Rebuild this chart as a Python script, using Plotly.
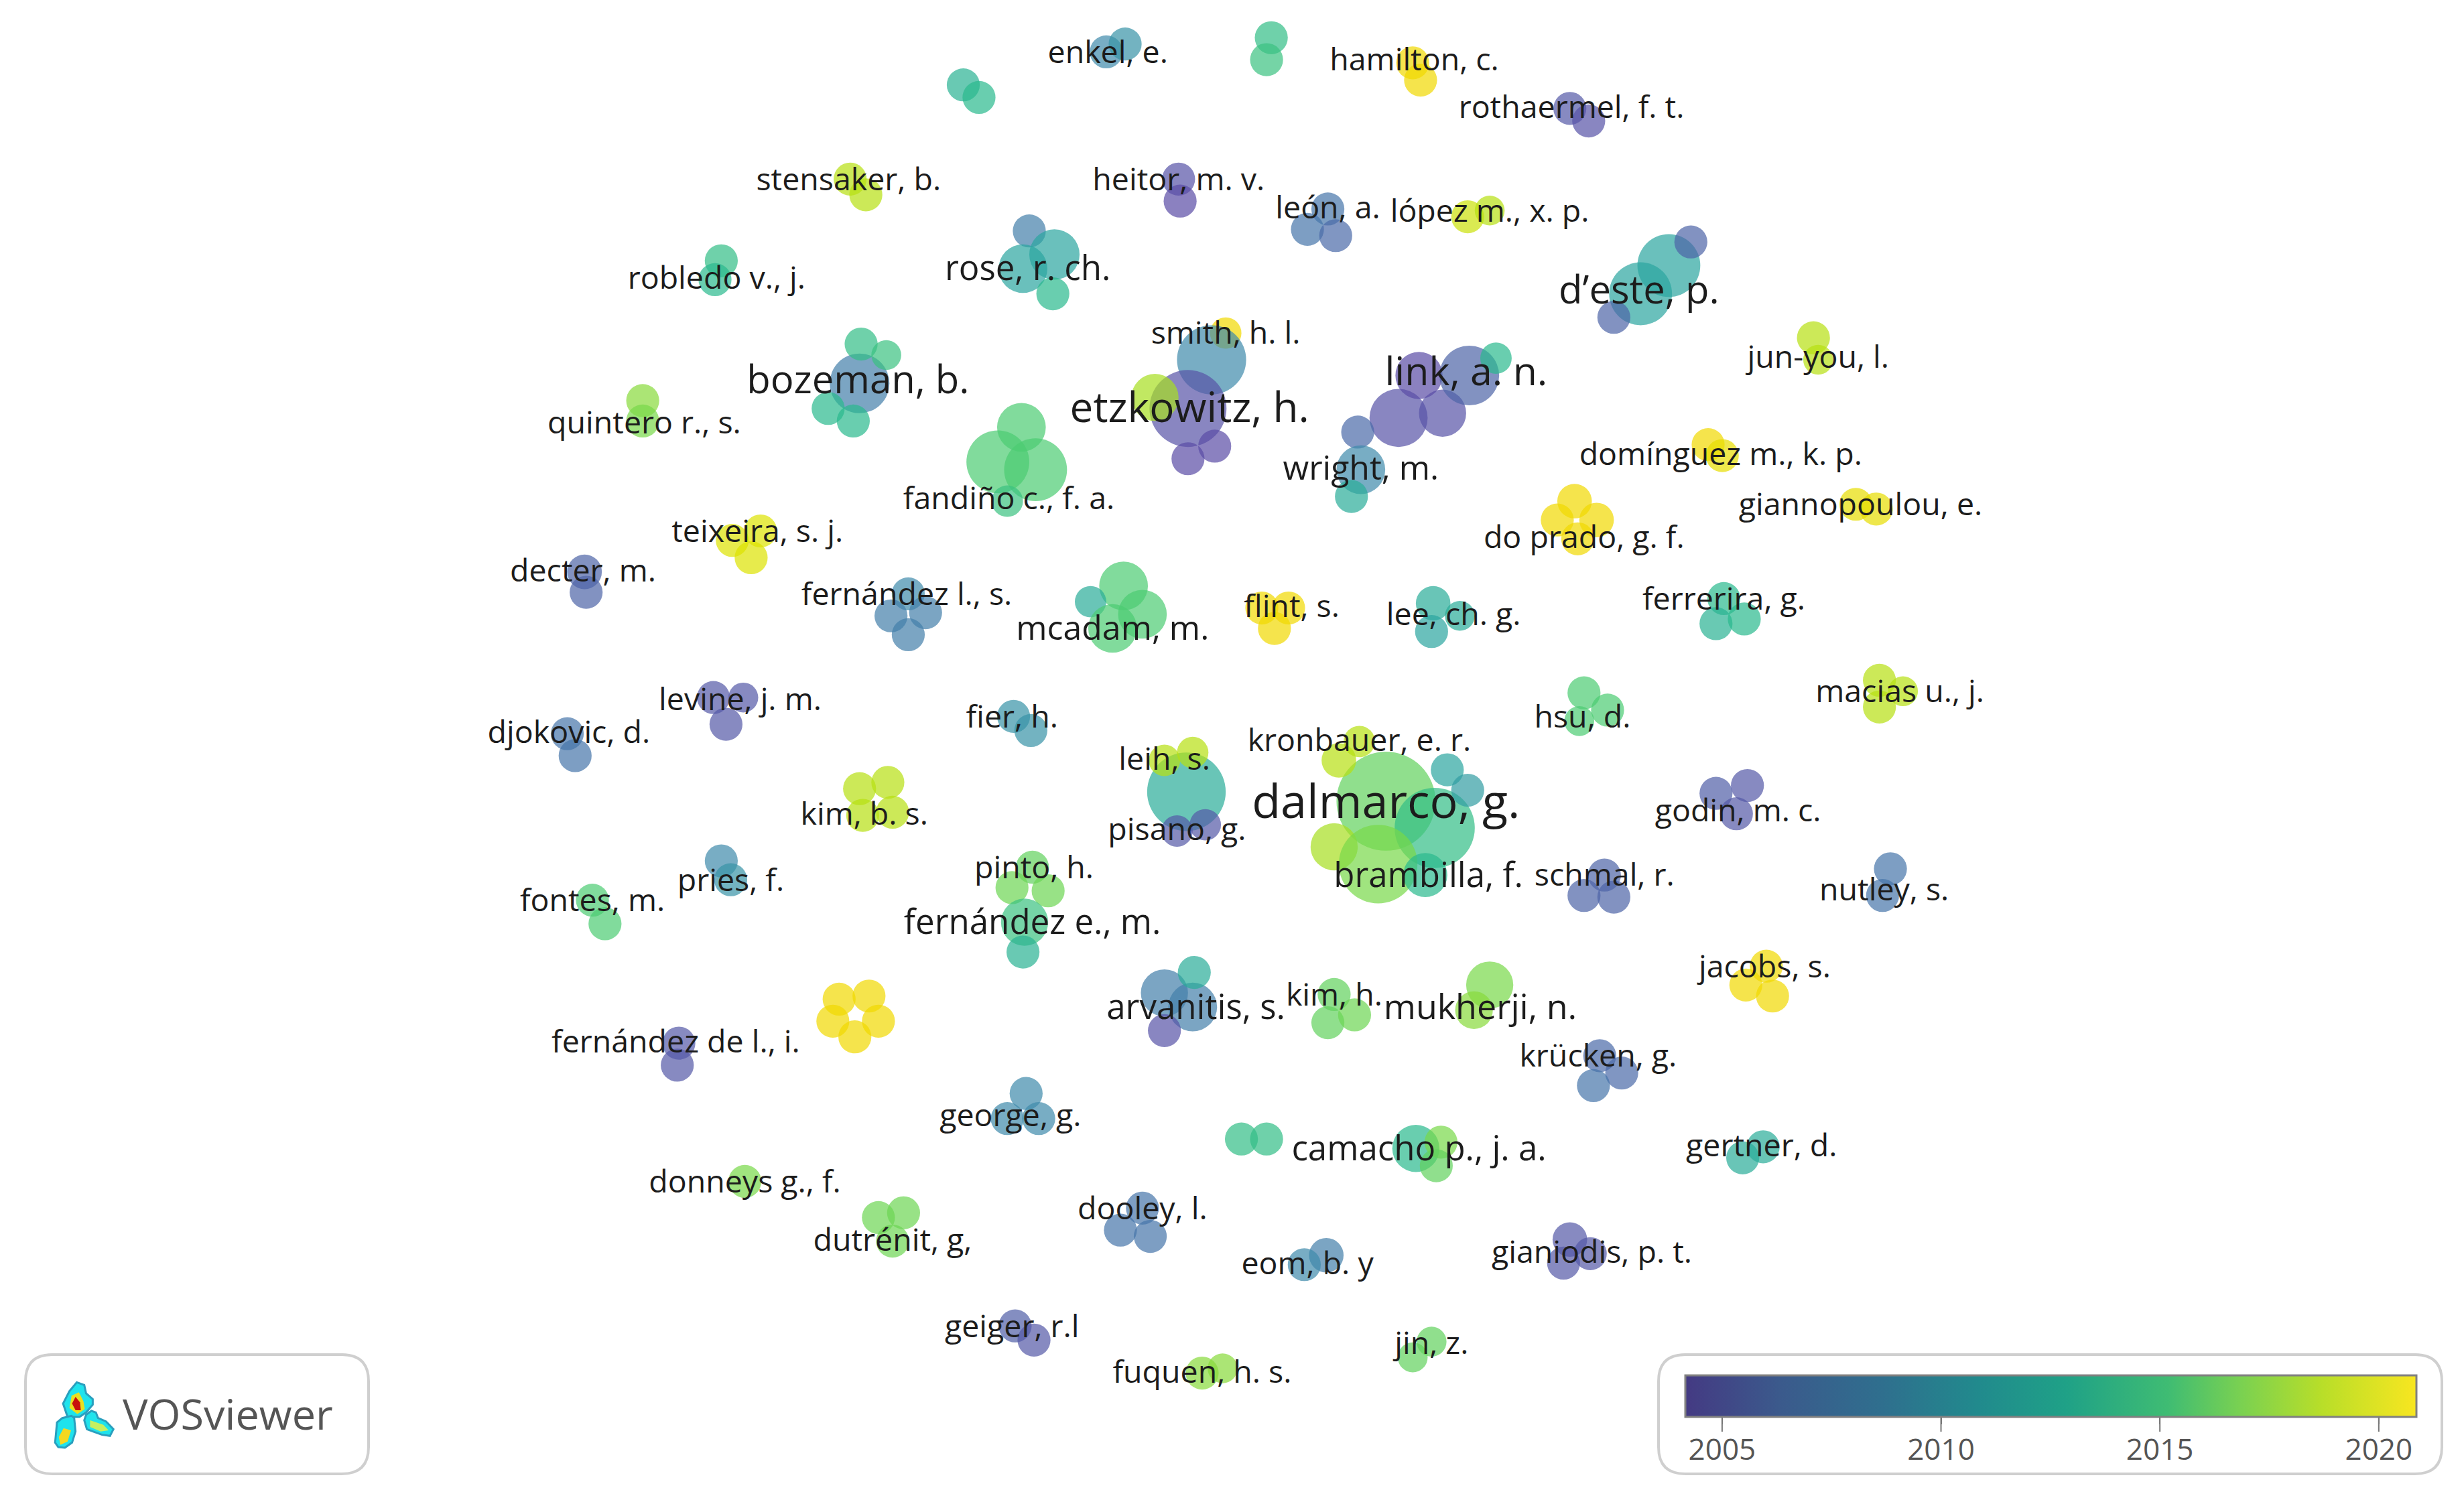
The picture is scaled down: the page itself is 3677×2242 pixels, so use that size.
import plotly.graph_objects as go

W, H = 3677, 2242
S = W / 1568  # the values below were read at 1568 px wide

# bubbles: x, y, diameter, average publication year
bx = [704, 716, 809, 806, 613, 623, 899, 904, 999, 1011, 541, 551, 750, 751, 845, 832, 850, 934, 948,
      655, 651, 671, 670, 1062, 1044, 1076, 1027, 459, 455, 780, 771, 756, 735, 773, 756,
      890, 918, 903, 935, 952, 864, 866, 860, 650, 635, 659, 641,
      882, 913, 849, 877, 907, 921, 934, 865, 852, 755, 741, 759, 749, 767,
      547, 548, 564, 527, 543, 409, 409, 1154, 1157, 1087, 1096, 1181, 1194,
      1002, 991, 1016, 1004, 466, 484, 478, 372, 373, 578, 567, 589, 578,
      715, 694, 727, 708, 803, 820, 811, 912, 929, 911, 1097, 1092, 1110,
      1196, 1211, 1196, 454, 473, 462, 361, 366, 645, 656, 1008, 1023, 1005,
      1092, 1112, 1105, 547, 565, 549, 568, 459, 465, 657, 644, 667, 652, 651,
      1021, 1008, 1027, 1203, 1198, 377, 385, 1124, 1111, 1128, 741, 759, 760, 741,
      849, 845, 862, 948, 938, 534, 553, 559, 544, 530, 432, 431,
      1018, 1032, 1014, 653, 641, 661, 1122, 1109, 901, 917, 914, 790, 806,
      474, 559, 575, 568, 727, 713, 732, 844, 830, 999, 995, 1012,
      646, 658, 765, 778, 911, 899]
by = [33, 28, 24, 38, 54, 62, 40, 51, 69, 77, 114, 124, 114, 128, 133, 146, 150, 138, 134,
      147, 171, 162, 187, 169, 187, 154, 202, 166, 178, 212, 229, 260, 253, 284, 292,
      266, 263, 239, 239, 228, 275, 299, 316, 272, 294, 299, 319,
      510, 527, 539, 550, 557, 490, 503, 472, 484, 504, 484, 479, 529, 525,
      244, 219, 226, 260, 268, 255, 268, 215, 229, 283, 290, 321, 324,
      319, 331, 331, 343, 344, 338, 355, 364, 377, 378, 392, 390, 404,
      373, 383, 391, 400, 387, 387, 400, 384, 392, 402, 381, 397, 394,
      433, 440, 450, 444, 444, 461, 467, 481, 456, 465, 441, 452, 459,
      505, 500, 518, 502, 498, 519, 517, 548, 560, 552, 565, 567, 587, 606,
      557, 570, 571, 553, 570, 573, 588, 615, 627, 634, 632, 641, 619, 656,
      633, 651, 646, 627, 643, 636, 634, 650, 660, 650, 664, 678,
      672, 683, 691, 696, 712, 712, 730, 737, 731, 727, 742, 725, 725,
      752, 775, 772, 790, 769, 783, 787, 799, 805, 789, 804, 798,
      844, 853, 874, 871, 854, 864]
bd = [21, 21, 21, 21, 21, 21, 21, 21, 21, 21, 21, 21, 21, 21, 21, 21, 21, 21, 19,
      21, 31, 32, 21, 40, 40, 21, 21, 21, 21, 20, 44, 49, 30, 21, 21,
      37, 30, 30, 38, 20, 21, 31, 21, 31, 40, 40, 20,
      63, 51, 30, 50, 28, 21, 21, 20, 22, 50, 20, 20, 20, 20,
      38, 21, 19, 21, 21, 21, 21, 21, 19, 21, 21, 21, 21,
      22, 21, 22, 21, 21, 21, 21, 22, 21, 21, 21, 21, 21,
      31, 20, 31, 31, 21, 21, 21, 22, 19, 21, 21, 21, 21,
      21, 19, 21, 21, 19, 21, 21, 21, 21, 21, 21, 21, 19,
      21, 21, 21, 21, 21, 21, 21, 21, 21, 21, 21, 21, 30, 21,
      21, 21, 21, 21, 21, 21, 21, 21, 21, 21, 30, 31, 21, 21,
      21, 21, 21, 30, 24, 21, 21, 21, 21, 21, 21, 21,
      21, 21, 21, 21, 21, 21, 21, 21, 30, 21, 21, 21, 21,
      21, 21, 21, 21, 21, 21, 21, 22, 21, 22, 21, 21,
      21, 21, 21, 19, 19, 19]
byear = [2009, 2009.5, 2012.5, 2013, 2011.5, 2012, 2020, 2020.5, 2006, 2005.5, 2018, 2018, 2005.5, 2005, 2008, 2008, 2007.5, 2018.5, 2018,
         2008.5, 2010.5, 2010.5, 2012, 2010.5, 2010.5, 2007, 2007, 2012.5, 2012, 2020.5, 2009, 2005.5, 2017.5, 2005, 2005,
         2005.5, 2005.5, 2005, 2007, 2012, 2007.5, 2009, 2011, 2014, 2014, 2014, 2013,
         2015, 2012.5, 2017.5, 2016, 2012, 2010.5, 2010, 2018, 2018, 2011, 2018, 2018, 2006, 2006,
         2008.5, 2012.5, 2013, 2012, 2012, 2016.5, 2016, 2018, 2018, 2020, 2019.5, 2019.5, 2019.5,
         2020, 2020, 2020, 2020, 2019, 2019, 2019, 2007, 2007, 2009, 2008.5, 2008.5, 2008.5,
         2014, 2011, 2014, 2014, 2020, 2020, 2020, 2011, 2011, 2010.5, 2012, 2011.5, 2012,
         2018, 2018, 2018, 2006, 2006, 2006, 2008, 2008, 2009.5, 2009.5, 2014, 2014, 2014,
         2006.5, 2006, 2006, 2018, 2018, 2018, 2018, 2009, 2009.5, 2015, 2015.5, 2015.5, 2013, 2011.5,
         2007, 2007, 2007, 2008, 2008, 2014, 2014, 2020, 2020, 2020, 2008.5, 2008.5, 2011, 2005.5,
         2015, 2015, 2015.5, 2016, 2016.5, 2020, 2020, 2020, 2020, 2020, 2006, 2006,
         2007.5, 2007.5, 2008, 2009, 2009, 2009, 2011, 2011, 2012, 2016, 2015, 2012.5, 2012.5,
         2016, 2015.5, 2015.5, 2015.5, 2008, 2008, 2008, 2008.5, 2009, 2006, 2006, 2006,
         2006.5, 2006, 2016.5, 2016.5, 2015, 2015]

# labels
names = ["enkel, e.", "hamilton, c.", "rothaermel, f. t.", "stensaker, b.", "heitor, m. v.", "león, a.",
         "lópez m., x. p.", "rose, r. ch.", "robledo v., j.", "d’este, p.", "jun-you, l.", "smith, h. l.",
         "bozeman, b.", "link, a. n.", "etzkowitz, h.", "quintero r., s.", "wright, m.", "domínguez m., k. p.",
         "fandiño c., f. a.", "giannopoulou, e.", "do prado, g. f.", "teixeira, s. j.", "decter, m.",
         "fernández l., s.", "mcadam, m.", "flint, s.", "lee, ch. g.", "ferrerira, g.", "levine, j. m.",
         "macias u., j.", "djokovic, d.", "fier, h.", "hsu, d.", "kronbauer, e. r.", "leih, s.", "kim, b. s.",
         "dalmarco, g.", "godin, m. c.", "pisano, g.", "pinto, h.", "brambilla, f.", "schmal, r.", "pries, f.",
         "nutley, s.", "fontes, m.", "fernández e., m.", "jacobs, s.", "kim, h.", "arvanitis, s.", "mukherji, n.",
         "fernández de l., i.", "krücken, g.", "george, g.", "gertner, d.", "camacho p., j. a.", "donneys g., f.",
         "dooley, l.", "dutrénit, g,", "eom, b. y", "gianiodis, p. t.", "geiger, r.l", "fuquen, h. s.", "jin, z."]
lx = [705, 900, 1000, 540, 750, 845, 948, 654, 456, 1043, 1157, 780, 546, 933, 757, 410, 866, 1095, 642, 1184,
      1008, 482, 371, 577, 708, 822, 925, 1097, 471, 1209, 362, 644, 1007, 865, 741, 550, 882, 1106, 749, 658,
      909, 1021, 465, 1199, 377, 657, 1123, 849, 761, 942, 430, 1017, 643, 1121, 903, 474, 727, 568, 832, 1013,
      644, 765, 911]
ly = [35, 40, 70, 116, 116, 134, 136, 173, 179, 187, 229, 214, 244, 239, 262, 271, 300, 291, 319, 323, 344, 340,
      365, 380, 402, 388, 393, 383, 447, 442, 468, 458, 458, 473, 485, 520, 513, 518, 530, 554, 559, 559, 562,
      568, 575, 589, 617, 635, 643, 643, 665, 674, 712, 731, 733, 754, 771, 791, 806, 799, 846, 875, 857]
lsize = [46.5, 46.5, 46.5, 46.5, 46.5, 46.5, 46.5, 51, 46.5, 58, 46.5, 46.5, 58, 59, 62, 46.5, 50, 46.5, 46.5, 46.5, 46.5,
         46.5, 46.5, 46.5, 50, 46.5, 46.5, 46.5, 46.5, 46.5, 46.5, 46.5, 46.5, 46.5, 46.5, 46.5, 70, 46.5, 46.5, 46.5, 51,
         46.5, 46.5, 46.5, 46.5, 51, 46.5, 46.5, 51, 52, 46.5, 46.5, 46.5, 46.5, 51, 46.5, 46.5, 46.5, 46.5, 46.5, 46.5,
         46.5, 46.5]

tick_years = [2005, 2010, 2015, 2020]
year_min, year_max = 2004.16, 2020.86
legend_colors = [[0, "#443a83"], [0.13, "#3b5a8c"], [0.27, "#2f6f8e"], [0.4, "#218a8d"], [0.52, "#1fa187"],
                 [0.66, "#3fbc73"], [0.76, "#7ad151"], [0.87, "#b8de29"], [1, "#f8e620"]]
# bubbles are see-through, so they need stronger colours than the legend bar to land on the same look
bubble_colors = [[0, "#5a4ca5"], [0.05, "#5a4ca5"], [0.2, "#4a6aa8"], [0.29, "#3f8aab"], [0.38, "#2ba59f"],
                 [0.47, "#29b98d"], [0.59, "#4ccc72"], [0.71, "#77d848"], [0.83, "#b8e010"], [0.89, "#dee200"],
                 [0.95, "#f1d800"], [1, "#f1d800"]]

# logo blobs, in zoomed crop units
blob_top = [(290, 250), (318, 262), (325, 300), (350, 325), (350, 350), (325, 385), (300, 405), (255, 405), (238, 345), (262, 290)]
blob_left = [(235, 410), (215, 430), (212, 470), (208, 520), (220, 540), (245, 543), (272, 520), (285, 470), (280, 410), (270, 400)]
blob_right = [(345, 378), (362, 385), (370, 410), (400, 425), (428, 460), (415, 490), (385, 485), (350, 470), (328, 460), (318, 420), (325, 395)]
core_top = [(270, 310), (298, 295), (315, 335), (320, 370), (292, 392), (262, 365)]
core_red = [(285, 315), (302, 340), (305, 375), (285, 375), (272, 345)]
core_left = [(240, 455), (268, 465), (255, 515), (228, 530), (222, 495)]
core_right = [(340, 420), (390, 440), (410, 465), (380, 470), (340, 450)]


def round_box(x0, y0, x1, y1, r):
    return (f"M{x0 + r},{y0} L{x1 - r},{y0} Q{x1},{y0} {x1},{y0 + r} L{x1},{y1 - r} Q{x1},{y1} {x1 - r},{y1} "
            f"L{x0 + r},{y1} Q{x0},{y1} {x0},{y1 - r} L{x0},{y0 + r} Q{x0},{y0} {x0 + r},{y0} Z")


def blob(points):
    pts = [(p[0] / 2.529 / S, (1980 + p[1] / 3) / S) for p in points]
    return "M" + " L".join(f"{a:.2f},{b:.2f}" for a, b in pts) + " Z"


fig = go.Figure()
fig.add_trace(go.Scatter(
    x=bx, y=by, mode="markers", hoverinfo="skip",
    marker=dict(size=bd, sizemode="diameter", sizeref=1 / S, color=byear, coloraxis="coloraxis2",
                opacity=0.7, line_width=0),
))
# empty trace, only there to carry the legend bar
fig.add_trace(go.Scatter(
    x=[None] * 4, y=[None] * 4, mode="markers", hoverinfo="skip",
    marker=dict(color=tick_years, coloraxis="coloraxis"),
))
fig.add_trace(go.Scatter(
    x=lx, y=ly, mode="text", text=names, textposition="middle center", hoverinfo="skip",
    textfont=dict(size=lsize, color="#1c1c1c", family="Open Sans"),
))

shapes = [
    dict(type="path", path=round_box(38 / S, 2022 / S, 550 / S, 2200 / S, 40 / S), line=dict(color="#cfcfcf", width=4), layer="below"),
    dict(type="path", path=round_box(2475 / S, 2022 / S, 3644 / S, 2200 / S, 40 / S), line=dict(color="#cfcfcf", width=4), layer="below"),
]
for pts in (blob_top, blob_left, blob_right):
    shapes.append(dict(type="path", path=blob(pts), fillcolor="#1fe3ec", line=dict(color="#2a9fbe", width=3)))
shapes.append(dict(type="path", path=blob(core_top), fillcolor="#e8e020", line_width=0))
shapes.append(dict(type="path", path=blob(core_red), fillcolor="#c8100c", line_width=0))
shapes.append(dict(type="path", path=blob(core_left), fillcolor="#f5d820", line_width=0))
shapes.append(dict(type="path", path=blob(core_right), fillcolor="#c6f060", line_width=0))
# colorbar ticks run up into the bar and down towards the labels
for yr in tick_years:
    px = 2515 + (yr - year_min) / (year_max - year_min) * 1091
    shapes.append(dict(type="line", x0=px / S, x1=px / S, y0=2093 / S, y1=2137 / S, line=dict(color="#777777", width=2)))

fig.update_layout(
    width=W, height=H, margin=dict(l=0, r=0, t=0, b=0, autoexpand=False),
    paper_bgcolor="white", plot_bgcolor="white", showlegend=False,
    font=dict(family="Open Sans"),
    xaxis=dict(range=[0, W / S], visible=False),
    yaxis=dict(range=[H / S, 0], visible=False),
    shapes=shapes,
    coloraxis2=dict(colorscale=bubble_colors, cmin=year_min, cmax=year_max, showscale=False),
    coloraxis=dict(
        colorscale=legend_colors, cmin=year_min, cmax=year_max,
        colorbar=dict(
            orientation="h", x=2515 / W, xanchor="left", y=1 - 2053 / H, yanchor="top",
            len=1091, lenmode="pixels", thickness=62, thicknessmode="pixels", xpad=0, ypad=0,
            outlinecolor="#808080", outlinewidth=3,
            tickmode="array", tickvals=tick_years, ticktext=[str(t) for t in tick_years],
            ticks="outside", ticklen=10, tickwidth=2, tickcolor="#777777",
            tickfont=dict(size=44, color="#555555", family="Open Sans"),
        ),
    ),
    annotations=[dict(x=340 / S, y=2109 / S, xref="x", yref="y", text="VOSviewer", showarrow=False,
                      font=dict(size=63, color="#555555", family="Open Sans"))],
)

fig.write_html("out.html", config={"displayModeBar": False}, post_script="document.body.style.margin='0';")
